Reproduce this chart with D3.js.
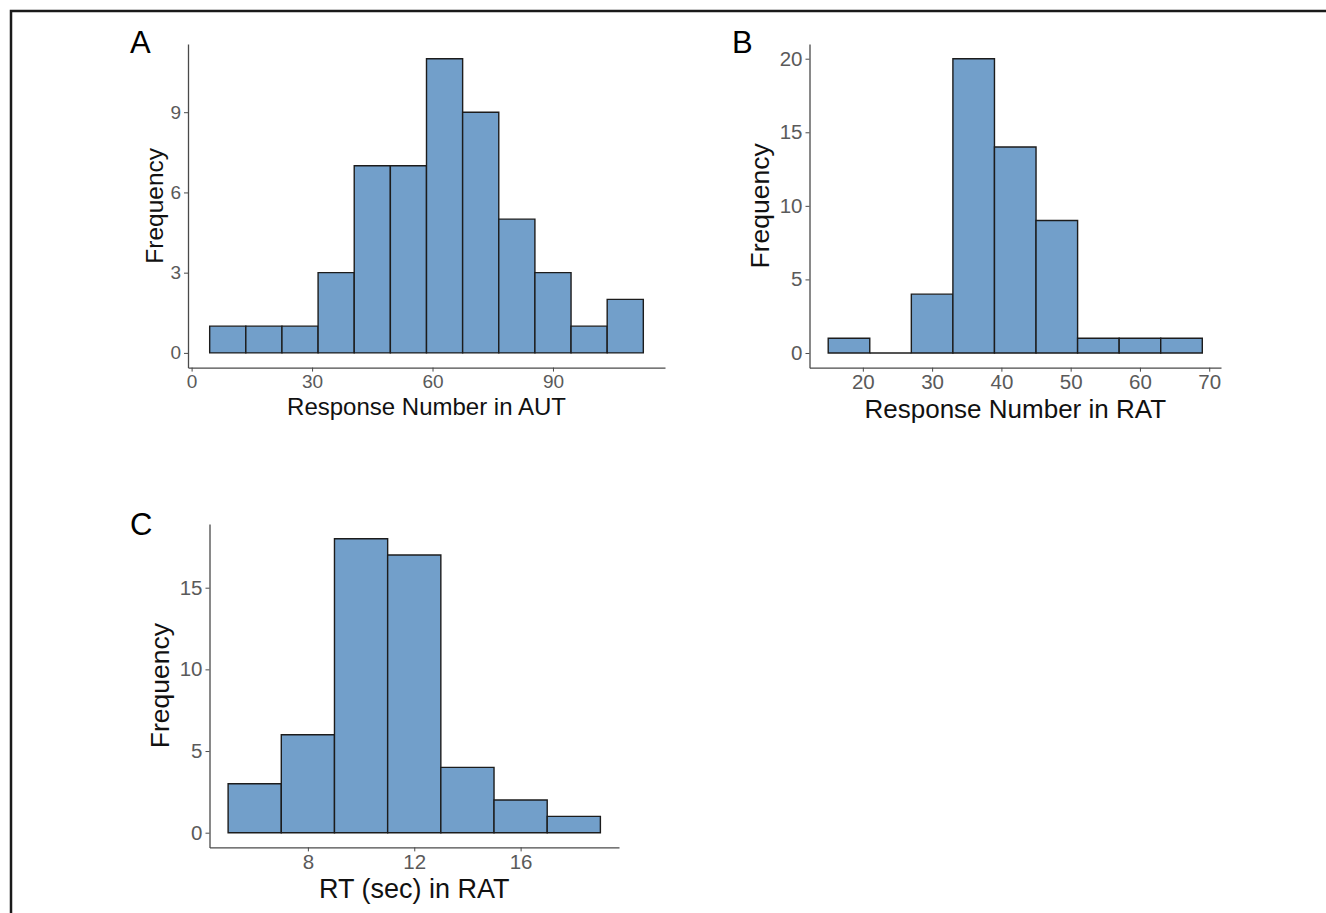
<!DOCTYPE html>
<html>
<head>
<meta charset="utf-8">
<script src="https://cdn.jsdelivr.net/npm/d3@7"></script>
<style>
  body { margin: 0; background: #fff; }
  svg { display: block; font-family: "Liberation Sans", Arial, sans-serif; }
</style>
</head>
<body>
<div id="chart"></div>
<script>
// Histogram data
const autBinStart = 4.5, autBinWidth = 9;
const autCounts = [1, 1, 1, 3, 7, 7, 11, 9, 5, 3, 1, 2];
const autXTicks = [0, 30, 60, 90];
const autYTicks = [0, 3, 6, 9];

const ratBinStart = 15, ratBinWidth = 6;
const ratCounts = [1, 0, 4, 20, 14, 9, 1, 1, 1];
const ratXTicks = [20, 30, 40, 50, 60, 70];
const ratYTicks = [0, 5, 10, 15, 20];

const rtBinStart = 5, rtBinWidth = 2;
const rtCounts = [3, 6, 18, 17, 4, 2, 1];
const rtXTicks = [8, 12, 16];
const rtYTicks = [0, 5, 10, 15];

const width = 1326, height = 913;

const svg = d3.select("#chart").append("svg")
    .attr("width", width)
    .attr("height", height)
    .attr("viewBox", [0, 0, width, height]);

// frame along left and top edges
svg.append("path")
    .attr("d", `M11,${height} V11 H${width}`)
    .attr("fill", "none")
    .attr("stroke", "#1a1a1a")
    .attr("stroke-width", 2.5);

const panels = [
  { label: "A", labelX: 130, labelY: 53, box: { left: 188, right: 665, top: 44, bottom: 367.6 },
    start: autBinStart, binW: autBinWidth, counts: autCounts, xTicks: autXTicks, yTicks: autYTicks,
    xTitle: "Response Number in AUT", tickSize: 19, titleSize: 24, yTitleSize: 24.5, titleY: 414.5, yTitleX: 163 },
  { label: "B", labelX: 732, labelY: 53, box: { left: 809.5, right: 1221, top: 44, bottom: 367.7 },
    start: ratBinStart, binW: ratBinWidth, counts: ratCounts, xTicks: ratXTicks, yTicks: ratYTicks,
    xTitle: "Response Number in RAT", tickSize: 20.5, titleSize: 26, yTitleSize: 26.5, titleY: 418, yTitleX: 769 },
  { label: "C", labelX: 130, labelY: 535, box: { left: 209.5, right: 619, top: 524, bottom: 847.4 },
    start: rtBinStart, binW: rtBinWidth, counts: rtCounts, xTicks: rtXTicks, yTicks: rtYTicks,
    xTitle: "RT (sec) in RAT", tickSize: 20.5, titleSize: 27, yTitleSize: 26.5, titleY: 898, yTitleX: 169 }
];

panels.forEach(p => {
  const bins = p.counts.map((c, i) => ({ x0: p.start + i * p.binW, x1: p.start + (i + 1) * p.binW, count: c }));
  const xMin = bins[0].x0, xMax = bins[bins.length - 1].x1;
  const xPad = (xMax - xMin) * 0.05;
  const yMax = d3.max(p.counts), yPad = yMax * 0.05;

  const x = d3.scaleLinear().domain([xMin - xPad, xMax + xPad]).range([p.box.left, p.box.right]);
  const y = d3.scaleLinear().domain([-yPad, yMax + yPad]).range([p.box.bottom, p.box.top]);

  const g = svg.append("g");

  // bars (paths so that empty bins still show their outline)
  g.append("g")
    .selectAll("path")
    .data(bins)
    .join("path")
      .attr("d", d => `M${x(d.x0)},${y(0)} V${y(d.count)} H${x(d.x1)} V${y(0)} Z`)
      .attr("fill", "#729fca")
      .attr("stroke", "#1c1c1c")
      .attr("stroke-width", 1.4);

  // x axis
  g.append("g")
    .attr("transform", `translate(0,${p.box.bottom})`)
    .call(d3.axisBottom(x).tickValues(p.xTicks).tickSize(4).tickPadding(3).tickSizeOuter(0))
    .call(a => a.select(".domain").attr("stroke", "#4a4a4a").attr("stroke-width", 1.3))
    .call(a => a.selectAll(".tick line").attr("stroke", "#4a4a4a"))
    .call(a => a.selectAll("text").attr("fill", "#5a5a5a").attr("font-size", p.tickSize)
        .attr("font-family", "Liberation Sans, Arial, sans-serif"));

  // y axis
  g.append("g")
    .attr("transform", `translate(${p.box.left},0)`)
    .call(d3.axisLeft(y).tickValues(p.yTicks).tickSize(4).tickPadding(3).tickSizeOuter(0))
    .call(a => a.select(".domain").attr("stroke", "#4a4a4a").attr("stroke-width", 1.3))
    .call(a => a.selectAll(".tick line").attr("stroke", "#4a4a4a"))
    .call(a => a.selectAll("text").attr("fill", "#5a5a5a").attr("font-size", p.tickSize)
        .attr("font-family", "Liberation Sans, Arial, sans-serif"));

  // axis titles
  g.append("text")
    .attr("x", (p.box.left + p.box.right) / 2)
    .attr("y", p.titleY)
    .attr("text-anchor", "middle")
    .attr("font-size", p.titleSize)
    .attr("fill", "#111")
    .text(p.xTitle);

  g.append("text")
    .attr("transform", `translate(${p.yTitleX},${(p.box.top + p.box.bottom) / 2}) rotate(-90)`)
    .attr("text-anchor", "middle")
    .attr("font-size", p.yTitleSize)
    .attr("fill", "#111")
    .text("Frequency");

  // panel letter
  svg.append("text")
    .attr("x", p.labelX)
    .attr("y", p.labelY)
    .attr("font-size", 31)
    .attr("fill", "#000")
    .text(p.label);
});
</script>
</body>
</html>
